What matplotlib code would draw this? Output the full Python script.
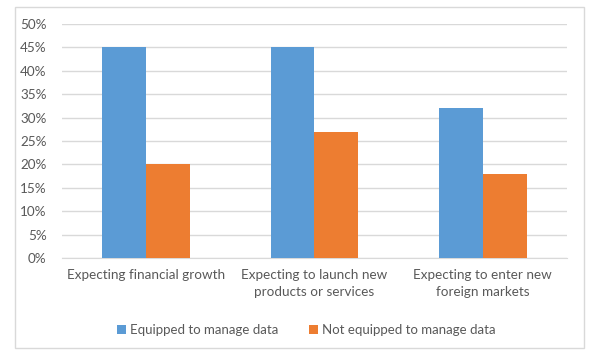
import numpy as np
import matplotlib.pyplot as plt
import matplotlib.ticker as mticker
from matplotlib.patches import Rectangle

# dados
categorias = ['Expecting financial growth',
              'Expecting to launch new\nproducts or services',
              'Expecting to enter new\nforeign markets']
equipados = [0.45, 0.45, 0.32]
nao_equipados = [0.20, 0.27, 0.18]
series = ['Equipped to manage data', 'Not equipped to manage data']

plt.rcParams['font.family'] = ['Lato', 'DejaVu Sans']

fig = plt.figure(figsize=(6, 3.6), dpi=100)
ax = fig.add_axes([0.1033, 0.2833, 0.8417, 0.65])

x = np.arange(len(categorias))
w = 0.26
ax.bar(x - w / 2, equipados, w, color='#5B9BD5', label=series[0], zorder=3)
ax.bar(x + w / 2, nao_equipados, w, color='#ED7D31', label=series[1], zorder=3)

ax.set_xlim(-0.5, 2.5)
ax.set_ylim(0, 0.5)
ax.set_yticks(np.arange(0, 0.51, 0.05))
ax.yaxis.set_major_formatter(mticker.FuncFormatter(lambda v, p: f'{v * 100:.0f}%'))
ax.set_xticks(x)
ax.set_xticklabels(categorias, linespacing=1.45)
ax.tick_params(axis='both', length=0, labelsize=9.7, colors='#595959')
ax.tick_params(axis='y', pad=11)
ax.tick_params(axis='x', pad=8)
ax.grid(True, axis='y', color='#D9D9D9', linewidth=1, zorder=0)
for s in ['top', 'right', 'left']:
    ax.spines[s].set_visible(False)
ax.spines['bottom'].set_color('#D9D9D9')

ax.legend(loc='center', bbox_to_anchor=(0.51, 1 - 330 / 360),
          bbox_transform=fig.transFigure, ncol=2, frameon=False,
          fontsize=9.5, handlelength=0.7, handleheight=0.7,
          handletextpad=0.3, columnspacing=2.3, labelcolor='#595959')

# moldura do gráfico
fig.patches.append(Rectangle((15 / 600, 1 - 348 / 360), 569 / 600, 341 / 360,
                             transform=fig.transFigure, fill=False,
                             edgecolor='#D9D9D9', linewidth=1))

fig.savefig('out.png', dpi=100)
